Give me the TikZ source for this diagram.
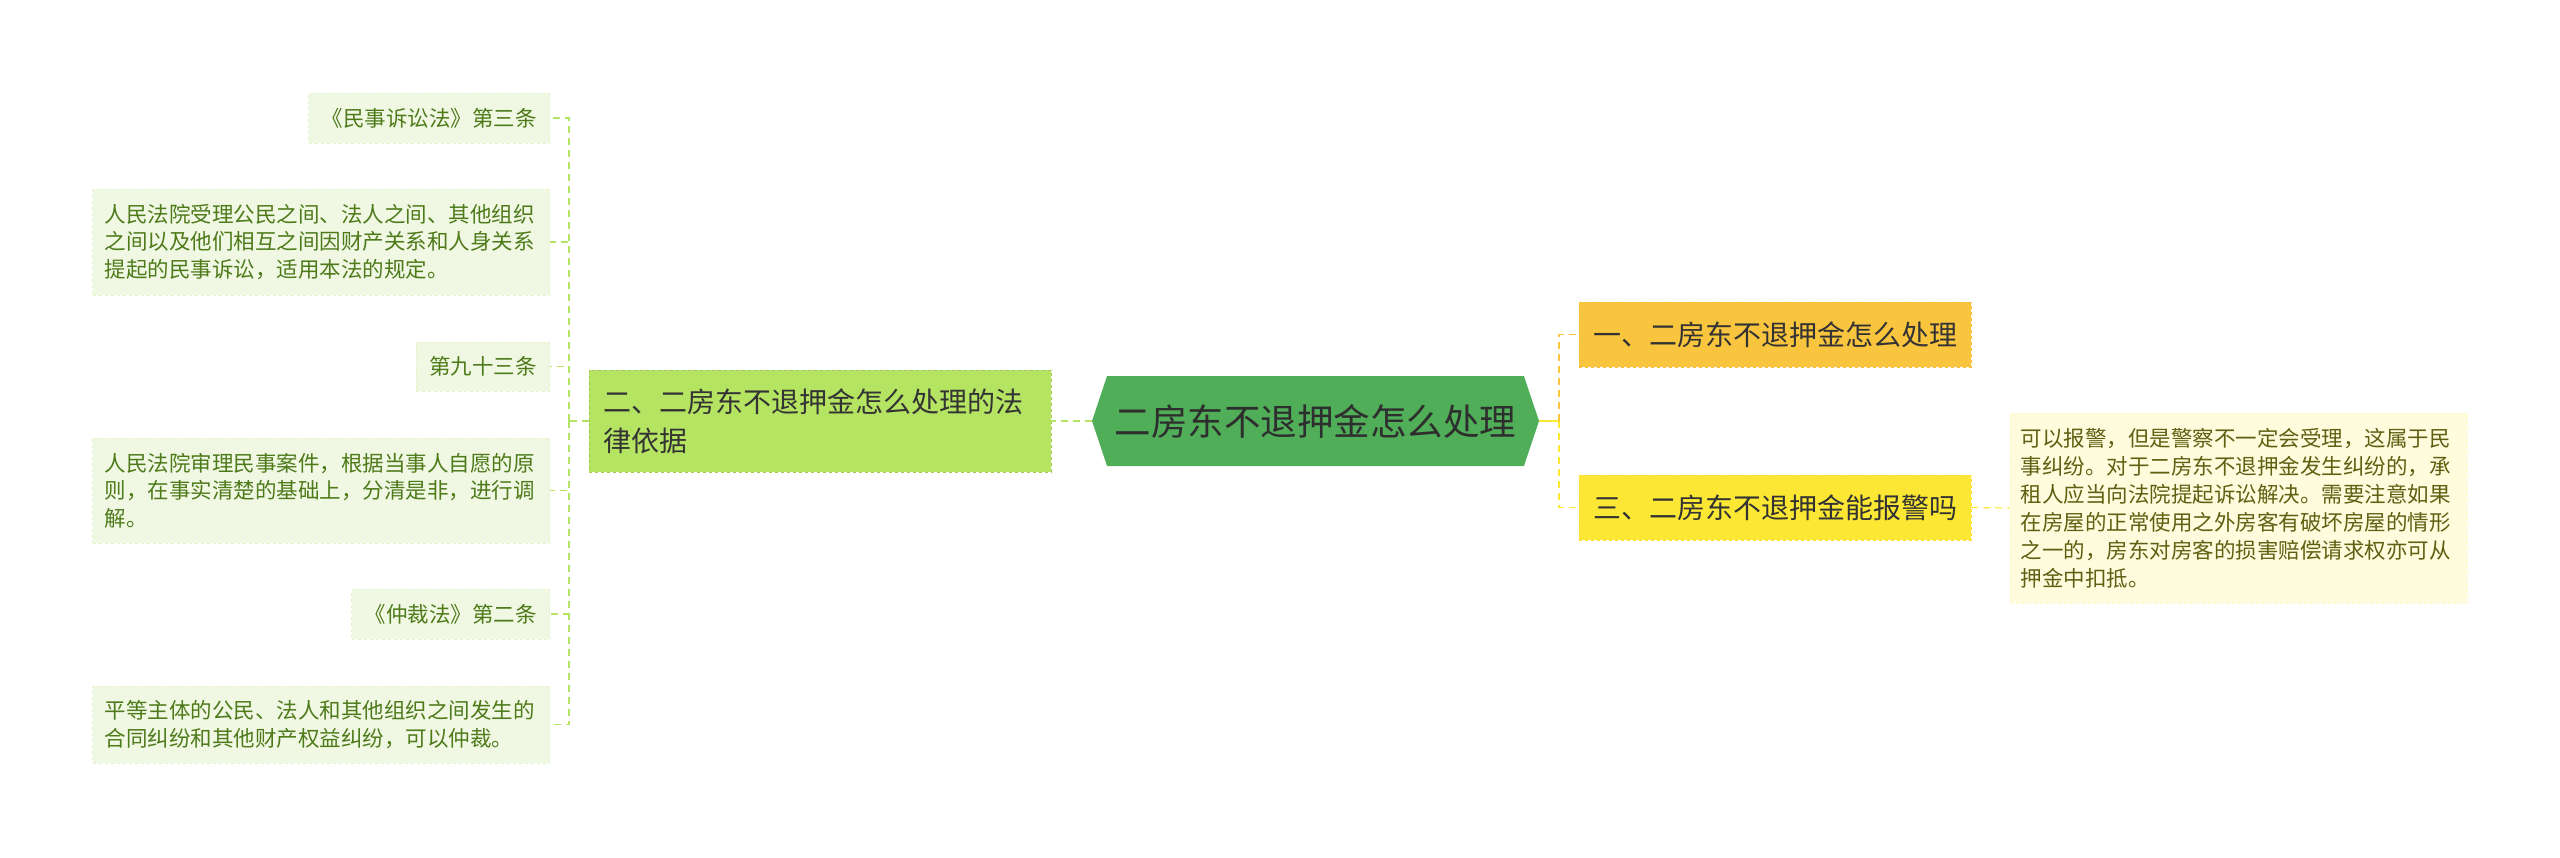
\documentclass[tikz,border=0pt]{standalone}
\usepackage{fontspec}
\usepackage{xcolor}
\usetikzlibrary{shapes.symbols}
\newfontfamily\cjk{Noto Sans CJK SC}
\definecolor{rootfill}{RGB}{80,173,88}
\definecolor{lawfill}{RGB}{181,227,98}
\definecolor{howfill}{RGB}{250,197,62}
\definecolor{policefill}{RGB}{252,232,52}
\definecolor{notefill}{RGB}{255,251,221}
\definecolor{notetext}{RGB}{96,96,18}
\definecolor{leaffill}{RGB}{240,248,227}
\definecolor{leaftext}{RGB}{78,122,26}

\begin{document}
\begin{tikzpicture}[x=1pt, y=-1pt,
  every node/.style = {font=\cjk},
  root/.style = {shape=signal, signal to=east and west, signal pointer angle=143, fill=rootfill,
    minimum width=447pt, minimum height=90pt, inner sep=0pt, text=black!82,
    font=\cjk\fontsize{36.5}{42}\selectfont},
  branch/.style = {draw, dashed, line width=0.8pt, align=left, inner xsep=14pt, inner ysep=0pt,
    text=black!80, font=\cjk\fontsize{28}{39}\selectfont},
  leaf/.style = {draw=leaffill!80!lawfill, dashed, line width=0.8pt, fill=leaffill, text=leaftext,
    anchor=east, inner xsep=13pt, inner ysep=0pt, font=\cjk\fontsize{21.5}{27.5}\selectfont},
  longleaf/.style = {leaf, align=left, text width=433pt, inner xsep=12pt},
  note/.style = {draw=notefill!85!policefill, dashed, line width=0.8pt, fill=notefill, text=notetext,
    align=left, text width=436pt, inner xsep=10.5pt, minimum height=190pt,
    font=\cjk\fontsize{21.5}{28}\selectfont},
  link/.style = {line width=1.2pt, dash pattern=on 7pt off 5pt}
]
  \useasboundingbox (0,0) rectangle (2560,857);

  \node[root] (root) at (1315.5,421) {二房东不退押金怎么处理};

  \node[branch, draw=lawfill!85!black!70!lawfill, fill=lawfill, text width=434pt, minimum height=102pt] (law) at (820,421) {二、二房东不退押金怎么处理的法\\律依据};
  \node[branch, draw=howfill!90!orange, fill=howfill, minimum width=392pt, minimum height=65pt] (how) at (1775,334.5) {一、二房东不退押金怎么处理};
  \node[branch, draw=policefill!90!orange, fill=policefill, minimum width=392pt, minimum height=65pt] (police) at (1775,507.5) {三、二房东不退押金能报警吗};

  \node[note] (n1) at (2238.5,508) {可以报警，但是警察不一定会受理，这属于民\\事纠纷。对于二房东不退押金发生纠纷的，承\\租人应当向法院提起诉讼解决。需要注意如果\\在房屋的正常使用之外房客有破坏房屋的情形\\之一的，房东对房客的损害赔偿请求权亦可从\\押金中扣抵。};

  \node[leaf, minimum height=50pt] (l1) at (550,118) {《民事诉讼法》第三条};
  \node[longleaf, minimum height=106pt] (l2) at (550,242) {人民法院受理公民之间、法人之间、其他组织\\之间以及他们相互之间因财产关系和人身关系\\提起的民事诉讼，适用本法的规定。};
  \node[leaf, minimum height=49pt] (l3) at (550,366.5) {第九十三条};
  \node[longleaf, minimum height=105pt] (l4) at (550,490.5) {人民法院审理民事案件，根据当事人自愿的原\\则，在事实清楚的基础上，分清是非，进行调\\解。};
  \node[leaf, minimum height=50pt] (l5) at (550,614) {《仲裁法》第二条};
  \node[longleaf, minimum height=77pt] (l6) at (550,724.5) {平等主体的公民、法人和其他组织之间发生的\\合同纠纷和其他财产权益纠纷，可以仲裁。};

  \coordinate (lbus) at (569,421);
  \coordinate (rbus) at (1559,421);

  \draw[link, draw=lawfill] (root.west) -- (law.east);
  \draw[link, draw=lawfill] (law.west) -- (lbus);
  \foreach \leaf in {l1,l2,l3,l4,l5,l6}
    \draw[link, draw=lawfill] (lbus) |- (\leaf.east);

  \draw[line width=1.2pt, draw=policefill] (root.east) -- (rbus);
  \draw[link, draw=howfill] (rbus) |- (how.west);
  \draw[link, draw=policefill] (rbus) |- (police.west);
  \draw[link, draw=policefill] (police.east) -- (n1.west);
\end{tikzpicture}
\end{document}
